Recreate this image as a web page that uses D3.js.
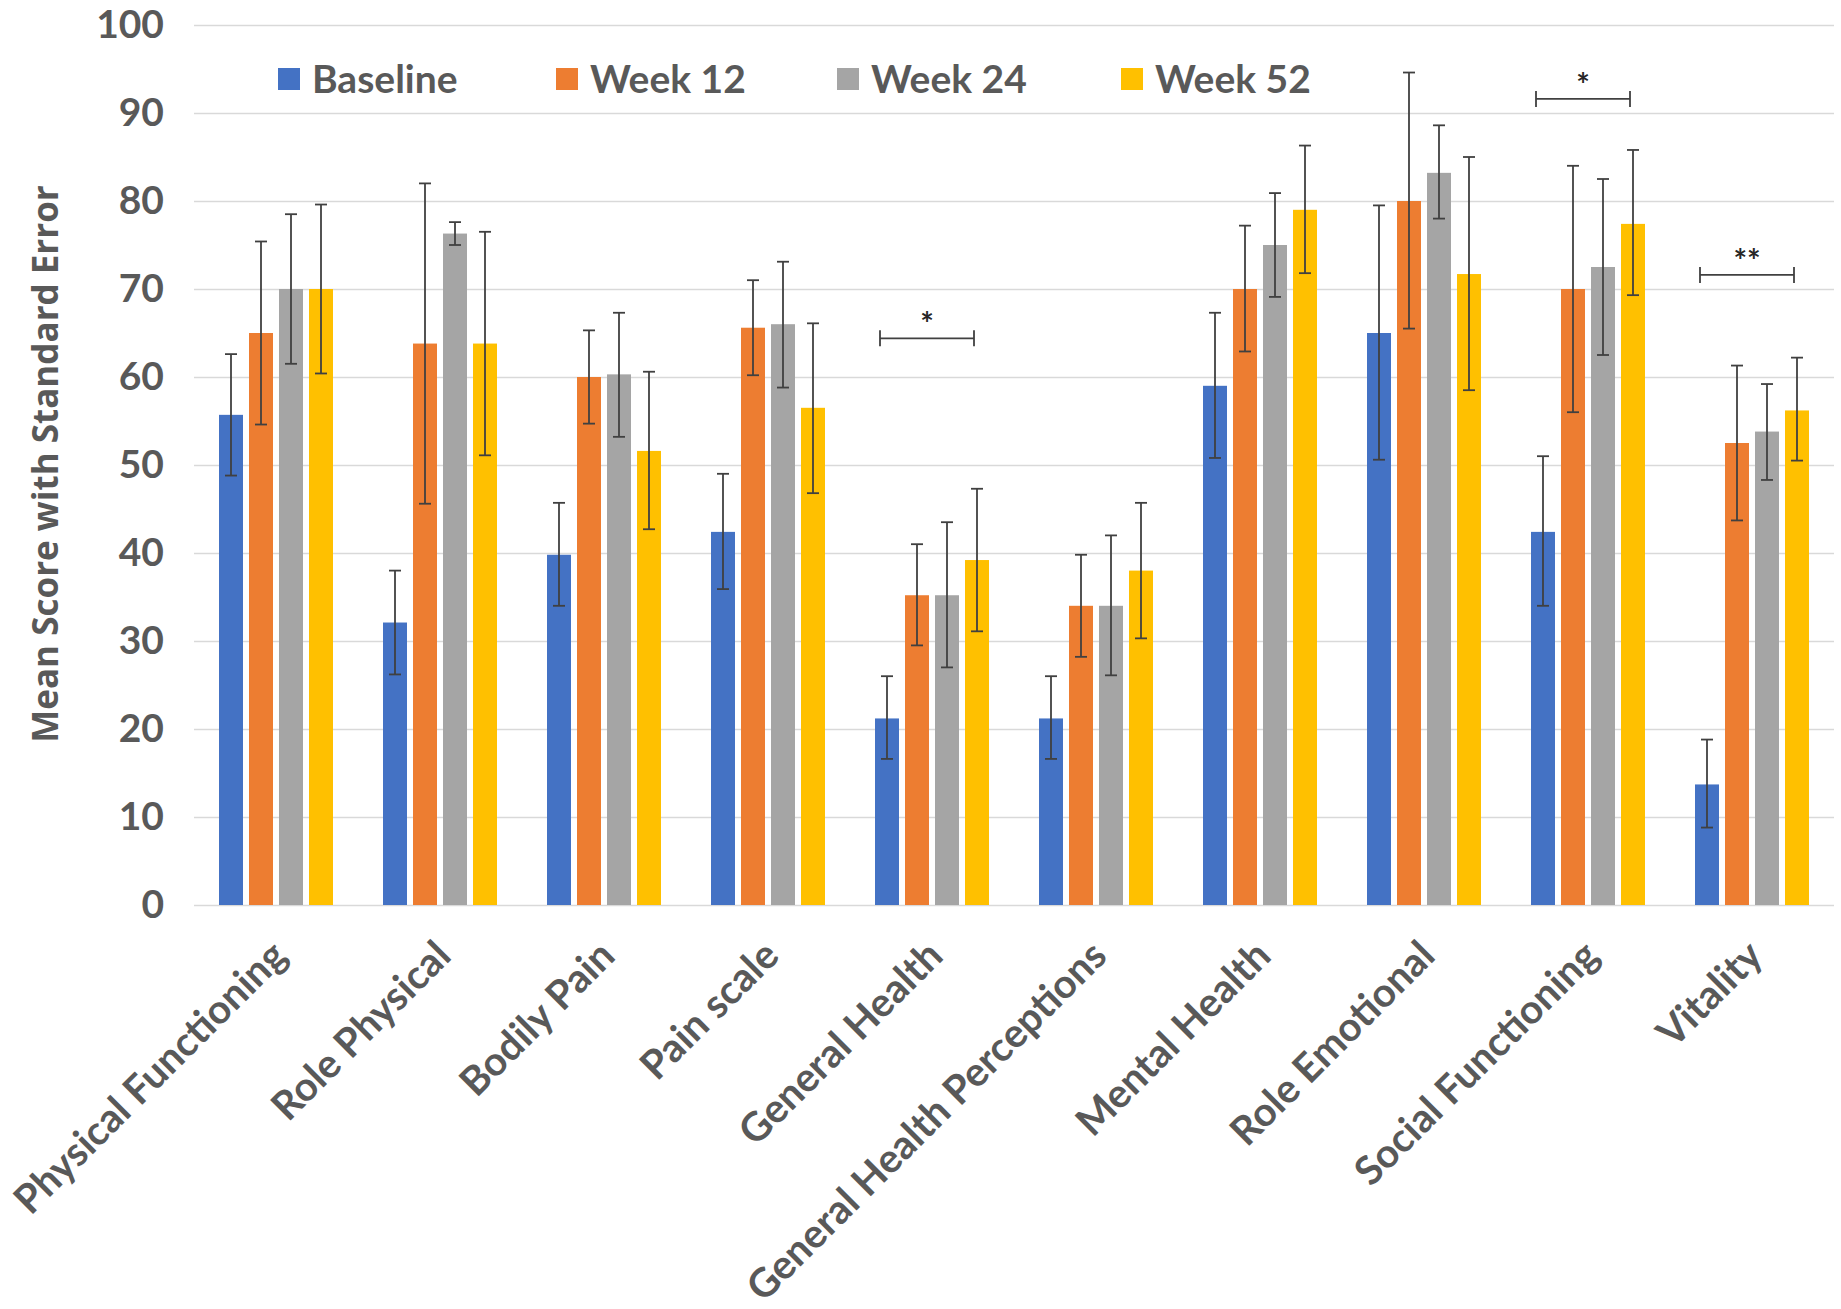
<!DOCTYPE html>
<html>
<head>
<meta charset="utf-8">
<script src="https://cdn.jsdelivr.net/npm/d3@7"></script>
<style>
  html, body { margin: 0; padding: 0; background: #ffffff; }
  svg { display: block; }
</style>
</head>
<body>
<svg id="chart" width="1841" height="1309"></svg>
<script>
// ---------------- DATA ----------------
const categories = ["Physical Functioning", "Role Physical", "Bodily Pain", "Pain scale", "General Health",
  "General Health Perceptions", "Mental Health", "Role Emotional", "Social Functioning", "Vitality"];
const seriesNames = ["Baseline", "Week 12", "Week 24", "Week 52"];
const seriesColors = ["#4472C4", "#ED7D31", "#A5A5A5", "#FFC000"];

const baseline = [55.7, 32.1, 39.8, 42.4, 21.2, 21.2, 59.0, 65.0, 42.4, 13.7];
const week12   = [65.0, 63.8, 60.0, 65.6, 35.2, 34.0, 70.0, 80.0, 70.0, 52.5];
const week24   = [70.0, 76.3, 60.3, 66.0, 35.2, 34.0, 75.0, 83.2, 72.5, 53.8];
const week52   = [70.0, 63.8, 51.6, 56.5, 39.2, 38.0, 79.0, 71.7, 77.4, 56.2];

// error bar bounds (low / high)
const baselineLow  = [48.8, 26.2, 34.0, 35.9, 16.6, 16.6, 50.8, 50.6, 34.0, 8.8];
const baselineHigh = [62.6, 38.0, 45.7, 49.0, 26.0, 26.0, 67.3, 79.5, 51.0, 18.8];
const week12Low    = [54.6, 45.6, 54.7, 60.2, 29.5, 28.2, 62.9, 65.5, 56.0, 43.7];
const week12High   = [75.4, 82.0, 65.3, 71.0, 41.0, 39.8, 77.2, 94.6, 84.0, 61.3];
const week24Low    = [61.5, 75.0, 53.2, 58.8, 27.0, 26.1, 69.1, 78.0, 62.5, 48.3];
const week24High   = [78.5, 77.6, 67.3, 73.1, 43.5, 42.0, 80.9, 88.6, 82.5, 59.2];
const week52Low    = [60.4, 51.1, 42.7, 46.8, 31.1, 30.3, 71.8, 58.5, 69.3, 50.5];
const week52High   = [79.6, 76.5, 60.6, 66.1, 47.3, 45.7, 86.3, 85.0, 85.8, 62.2];

const yTicks = [0, 10, 20, 30, 40, 50, 60, 70, 80, 90, 100];
const yTitle = "Mean Score with Standard Error";

// significance brackets
const sigCategories = ["General Health", "Social Functioning", "Vitality"];
const sigLevels = [64.4, 91.6, 71.6];
const sigLabels = ["*", "*", "**"];

// ---------------- LAYOUT ----------------
const svg = d3.select("#chart");
const plot = { left: 194, right: 1834, top: 25, bottom: 905 };
const textColor = "#595959";
const fontMain = "Lato, 'Open Sans', sans-serif";

const x0 = d3.scaleBand().domain(categories).range([plot.left, plot.right]).paddingInner(0).paddingOuter(0);
const x1 = d3.scaleBand().domain(seriesNames).range([25, x0.bandwidth() - 25]).paddingInner(0.2).paddingOuter(0);
const y = d3.scaleLinear().domain([0, 100]).range([plot.bottom, plot.top]);

// gridlines + y axis labels
const yAxis = d3.axisLeft(y).tickValues(yTicks).tickSize(-(plot.right - plot.left)).tickPadding(30);
const gy = svg.append("g").attr("transform", `translate(${plot.left},0)`).call(yAxis);
gy.select(".domain").remove();
gy.selectAll(".tick line").attr("stroke", "#D9D9D9").attr("stroke-width", 1.6);
gy.selectAll(".tick text")
  .attr("fill", textColor)
  .style("font-family", fontMain)
  .style("font-weight", "700")
  .style("font-size", "39px");

// y title
svg.append("text")
  .attr("transform", `translate(58,464) rotate(-90)`)
  .attr("text-anchor", "middle")
  .attr("fill", textColor)
  .style("font-family", "'Open Sans', sans-serif")
  .style("font-weight", "700")
  .style("font-size", "35px")
  .text(yTitle);

// bars
const seriesData = [baseline, week12, week24, week52];
const lows = [baselineLow, week12Low, week24Low, week52Low];
const highs = [baselineHigh, week12High, week24High, week52High];

const groups = svg.append("g").selectAll("g")
  .data(categories)
  .join("g")
  .attr("transform", d => `translate(${x0(d)},0)`);

groups.selectAll("rect")
  .data((c, ci) => seriesNames.map((s, si) => ({ s, si, v: seriesData[si][ci] })))
  .join("rect")
  .attr("x", d => x1(d.s))
  .attr("width", x1.bandwidth())
  .attr("y", d => y(d.v))
  .attr("height", d => y(0) - y(d.v))
  .attr("fill", d => seriesColors[d.si]);

// error bars
const errColor = "#404040";
const capW = 6;
const eb = groups.selectAll("g.err")
  .data((c, ci) => seriesNames.map((s, si) => ({ s, lo: lows[si][ci], hi: highs[si][ci] })))
  .join("g").attr("class", "err");
eb.append("line")
  .attr("x1", d => x1(d.s) + x1.bandwidth() / 2)
  .attr("x2", d => x1(d.s) + x1.bandwidth() / 2)
  .attr("y1", d => y(d.lo)).attr("y2", d => y(d.hi))
  .attr("stroke", errColor).attr("stroke-width", 1.8);
eb.append("line")
  .attr("x1", d => x1(d.s) + x1.bandwidth() / 2 - capW)
  .attr("x2", d => x1(d.s) + x1.bandwidth() / 2 + capW)
  .attr("y1", d => y(d.lo)).attr("y2", d => y(d.lo))
  .attr("stroke", errColor).attr("stroke-width", 1.8);
eb.append("line")
  .attr("x1", d => x1(d.s) + x1.bandwidth() / 2 - capW)
  .attr("x2", d => x1(d.s) + x1.bandwidth() / 2 + capW)
  .attr("y1", d => y(d.hi)).attr("y2", d => y(d.hi))
  .attr("stroke", errColor).attr("stroke-width", 1.8);

// x axis labels
const xAxis = d3.axisBottom(x0).tickSize(0).tickPadding(0);
const gx = svg.append("g").attr("transform", `translate(0,${plot.bottom})`).call(xAxis);
gx.select(".domain").remove();
gx.selectAll(".tick text")
  .attr("text-anchor", "end")
  .attr("dy", null)
  .attr("y", 0)
  .attr("transform", "translate(13,53) rotate(-45)")
  .attr("fill", textColor)
  .style("font-family", fontMain)
  .style("font-weight", "700")
  .style("font-size", "40px");

// significance brackets
sigCategories.forEach((c, i) => {
  const xa = x0(c) + x1("Baseline") + 5;
  const xb = x0(c) + x1("Week 52") + x1.bandwidth() / 2 - 3;
  const yy = y(sigLevels[i]);
  const g = svg.append("g");
  g.append("line").attr("x1", xa).attr("x2", xb).attr("y1", yy).attr("y2", yy)
    .attr("stroke", errColor).attr("stroke-width", 1.8);
  g.append("line").attr("x1", xa).attr("x2", xa).attr("y1", yy - 8).attr("y2", yy + 8)
    .attr("stroke", errColor).attr("stroke-width", 1.8);
  g.append("line").attr("x1", xb).attr("x2", xb).attr("y1", yy - 8).attr("y2", yy + 8)
    .attr("stroke", errColor).attr("stroke-width", 1.8);
  g.append("text")
    .attr("x", (xa + xb) / 2).attr("y", yy - 2)
    .attr("text-anchor", "middle")
    .attr("fill", "#262626")
    .style("font-family", fontMain)
    .style("font-weight", "700")
    .style("font-size", "32px")
    .text(sigLabels[i]);
});

// legend
const legendX = [278, 556, 837, 1121];
const legend = svg.append("g").selectAll("g")
  .data(seriesNames)
  .join("g")
  .attr("transform", (d, i) => `translate(${legendX[i]},79)`);
legend.append("rect")
  .attr("x", 0).attr("y", -11).attr("width", 22).attr("height", 22)
  .attr("fill", (d, i) => seriesColors[i]);
legend.append("text")
  .attr("x", 34).attr("y", 14)
  .attr("fill", textColor)
  .style("font-family", fontMain)
  .style("font-weight", "700")
  .style("font-size", "39px")
  .text(d => d);
</script>
</body>
</html>
